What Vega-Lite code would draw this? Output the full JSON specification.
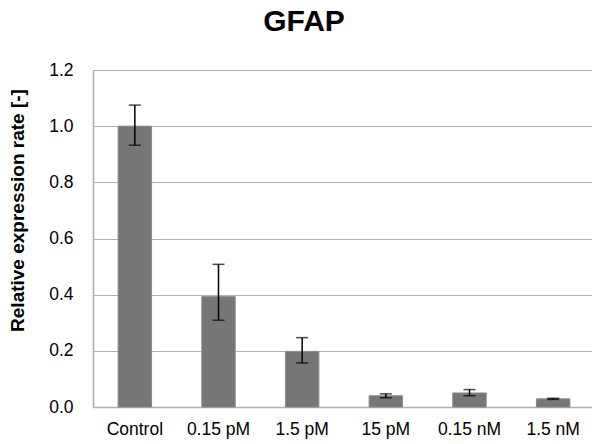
{
  "$schema": "https://vega.github.io/schema/vega-lite/v6.json",
  "autosize": "none",
  "width": 502,
  "height": 337,
  "padding": {"left": 93, "top": 70, "right": -3, "bottom": 37},
  "background": "white",
  "title": {
    "text": "GFAP",
    "font": "Liberation Sans",
    "fontSize": 30,
    "fontWeight": "bold",
    "color": "#000000",
    "anchor": "middle",
    "frame": "group",
    "dx": -40,
    "offset": 24
  },
  "data": {
    "values": [
      {"group": "Control", "value": 1.0, "lower": 0.932, "upper": 1.075},
      {"group": "0.15 pM", "value": 0.393, "lower": 0.309, "upper": 0.508},
      {"group": "1.5 pM", "value": 0.198, "lower": 0.157, "upper": 0.247},
      {"group": "15 pM", "value": 0.04, "lower": 0.033, "upper": 0.047},
      {"group": "0.15 nM", "value": 0.05, "lower": 0.04, "upper": 0.062},
      {"group": "1.5 nM", "value": 0.029, "lower": 0.027, "upper": 0.031}
    ]
  },
  "encoding": {
    "x": {
      "field": "group",
      "type": "nominal",
      "sort": null,
      "scale": {"paddingInner": 0.6, "paddingOuter": 0.3},
      "axis": {
        "title": null,
        "labelAngle": 0,
        "labelFont": "Liberation Sans",
        "labelFontSize": 17.5,
        "labelColor": "#000000",
        "labelPadding": 13,
        "ticks": false,
        "domainColor": "#b0b0b0",
        "domainWidth": 1.5,
        "grid": false
      }
    }
  },
  "layer": [
    {
      "mark": {"type": "bar", "color": "#767676", "stroke": "#8c8c8c", "strokeWidth": 1},
      "encoding": {
        "y": {
          "field": "value",
          "type": "quantitative",
          "scale": {"domain": [0, 1.2], "nice": false},
          "axis": {
            "title": "Relative expression rate [-]",
            "titleFont": "Liberation Sans",
            "titleFontSize": 19,
            "titleFontWeight": "bold",
            "titleColor": "#000000",
            "titleX": -76,
            "titleY": 140,
            "titleAngle": -90,
            "titleAlign": "center",
            "titleBaseline": "middle",
            "values": [0, 0.2, 0.4, 0.6, 0.8, 1.0, 1.2],
            "format": ".1f",
            "labelFont": "Liberation Sans",
            "labelFontSize": 17.5,
            "labelColor": "#000000",
            "labelPadding": 20,
            "ticks": false,
            "domainColor": "#b0b0b0",
            "domainWidth": 1.5,
            "gridColor": "#b0b0b0",
            "gridWidth": 1.2
          }
        }
      }
    },
    {
      "mark": {"type": "rule", "color": "#000000", "strokeWidth": 1.5},
      "encoding": {
        "y": {"field": "lower", "type": "quantitative"},
        "y2": {"field": "upper"}
      }
    },
    {
      "mark": {"type": "tick", "color": "#000000", "thickness": 1.5, "size": 12, "orient": "horizontal"},
      "encoding": {"y": {"field": "upper", "type": "quantitative"}}
    },
    {
      "mark": {"type": "tick", "color": "#000000", "thickness": 1.5, "size": 12, "orient": "horizontal"},
      "encoding": {"y": {"field": "lower", "type": "quantitative"}}
    }
  ],
  "config": {"view": {"stroke": null}}
}
